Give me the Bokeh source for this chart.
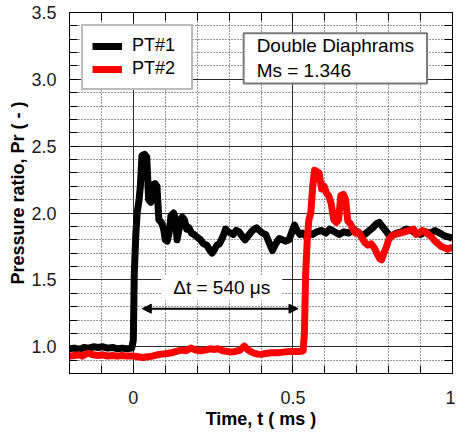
from bokeh.plotting import figure
from bokeh.models import LinearAxis, FixedTicker, Label, Arrow, NormalHead, CustomJSTickFormatter
from bokeh.embed import file_html
from bokeh.resources import INLINE

# ---------------- data ----------------
t1 = [-0.200, -0.185, -0.170, -0.155, -0.140, -0.125, -0.110, -0.095, -0.080, -0.065,
      -0.050, -0.035, -0.020, -0.005, 0.000, 0.003, 0.008, 0.012, 0.018, 0.022,
      0.027, 0.035, 0.042, 0.048, 0.055, 0.060, 0.068, 0.074, 0.080, 0.088,
      0.095, 0.100, 0.106, 0.112, 0.118, 0.126, 0.132, 0.137, 0.145, 0.153,
      0.160, 0.167, 0.174, 0.182, 0.190, 0.200, 0.210, 0.220, 0.230, 0.240,
      0.247, 0.255, 0.262, 0.270, 0.280, 0.289, 0.297, 0.305, 0.313, 0.322,
      0.331, 0.340, 0.350, 0.360, 0.370, 0.378, 0.386, 0.395, 0.405, 0.415,
      0.425, 0.436, 0.446, 0.457, 0.467, 0.478, 0.488, 0.497, 0.505, 0.513,
      0.522, 0.530, 0.540, 0.550, 0.561, 0.575, 0.590, 0.603, 0.615, 0.630,
      0.645, 0.660, 0.675, 0.690, 0.705, 0.720, 0.735, 0.750, 0.762, 0.771,
      0.780, 0.790, 0.800, 0.810, 0.825, 0.840, 0.855, 0.870, 0.885, 0.900,
      0.915, 0.930, 0.945, 0.960, 0.975, 0.990, 1.000]
p1 = [0.985, 0.990, 0.980, 0.995, 0.990, 1.000, 0.995, 1.000, 0.990, 0.995,
      0.985, 0.990, 0.985, 0.990, 1.050, 1.550, 1.850, 2.000, 2.100, 2.200,
      2.430, 2.440, 2.420, 2.100, 2.080, 2.210, 2.220, 2.200, 1.950, 1.930,
      1.880, 1.800, 1.790, 1.850, 1.980, 2.000, 1.960, 1.800, 1.900, 1.970,
      1.950, 1.880, 1.890, 1.850, 1.840, 1.820, 1.800, 1.770, 1.760, 1.720,
      1.700, 1.730, 1.760, 1.770, 1.820, 1.880, 1.860, 1.850, 1.840, 1.870,
      1.860, 1.830, 1.800, 1.830, 1.860, 1.880, 1.890, 1.870, 1.850, 1.840,
      1.780, 1.720, 1.770, 1.810, 1.800, 1.790, 1.800, 1.860, 1.910, 1.870,
      1.840, 1.850, 1.830, 1.850, 1.840, 1.860, 1.870, 1.850, 1.880, 1.860,
      1.840, 1.860, 1.850, 1.880, 1.850, 1.830, 1.860, 1.890, 1.920, 1.930,
      1.900, 1.870, 1.840, 1.830, 1.850, 1.860, 1.880, 1.870, 1.850, 1.840,
      1.860, 1.850, 1.870, 1.850, 1.830, 1.820, 1.810]

t2 = [-0.200, -0.185, -0.170, -0.160, -0.150, -0.140, -0.125, -0.110, -0.095, -0.080,
      -0.065, -0.050, -0.035, -0.020, 0.000, 0.015, 0.030, 0.045, 0.060, 0.075,
      0.090, 0.105, 0.120, 0.135, 0.150, 0.165, 0.180, 0.195, 0.210, 0.225,
      0.240, 0.255, 0.265, 0.280, 0.295, 0.305, 0.320, 0.335, 0.348, 0.360,
      0.375, 0.390, 0.400, 0.415, 0.430, 0.452, 0.470, 0.490, 0.505, 0.520,
      0.532, 0.536, 0.540, 0.545, 0.550, 0.556, 0.562, 0.568, 0.575, 0.582,
      0.590, 0.598, 0.605, 0.612, 0.620, 0.628, 0.636, 0.643, 0.650, 0.658,
      0.665, 0.672, 0.680, 0.688, 0.696, 0.705, 0.715, 0.725, 0.735, 0.745,
      0.755, 0.765, 0.772, 0.778, 0.785, 0.792, 0.800, 0.810, 0.820, 0.835,
      0.850, 0.865, 0.878, 0.886, 0.895, 0.905, 0.915, 0.925, 0.935, 0.945,
      0.955, 0.965, 0.975, 0.985, 0.995, 1.000]
p2 = [0.930, 0.935, 0.940, 0.930, 0.945, 0.950, 0.940, 0.935, 0.940, 0.930,
      0.935, 0.930, 0.935, 0.930, 0.930, 0.925, 0.920, 0.925, 0.930, 0.940,
      0.945, 0.950, 0.955, 0.965, 0.975, 0.970, 0.990, 0.975, 0.970, 0.975,
      0.985, 0.980, 0.985, 0.970, 0.965, 0.960, 0.965, 0.975, 1.005, 0.975,
      0.955, 0.945, 0.943, 0.950, 0.955, 0.955, 0.960, 0.965, 0.965, 0.965,
      0.970, 1.100, 1.550, 1.800, 1.950, 2.000, 2.200, 2.320, 2.310, 2.300,
      2.180, 2.200, 2.150, 2.130, 2.070, 1.950, 1.930, 1.950, 2.130, 2.140,
      2.100, 1.940, 1.920, 1.880, 1.850, 1.860, 1.820, 1.780, 1.760, 1.770,
      1.740, 1.690, 1.660, 1.650, 1.700, 1.740, 1.800, 1.830, 1.840, 1.850,
      1.860, 1.870, 1.880, 1.840, 1.850, 1.870, 1.860, 1.840, 1.820, 1.790,
      1.770, 1.750, 1.740, 1.730, 1.740, 1.720]

series_names = ["PT#1", "PT#2"]
series_colors = ["black", "#ff0000"]

x_major = [0, 0.5, 1]
x_tick_labels = {0: "0", 0.5: "0.5", 1: "1"}
y_major = [1.0, 1.5, 2.0, 2.5, 3.0, 3.5]
y_tick_labels = {1.0: "1.0", 1.5: "1.5", 2.0: "2.0", 2.5: "2.5", 3.0: "3.0", 3.5: "3.5"}
x_minor = [round(-0.2 + 0.1 * i, 1) for i in range(13)]
y_minor = [round(0.8 + 0.1 * i, 1) for i in range(28)]

x_title = "Time, t ( ms )"
y_title = "Pressure ratio, Pr ( - )"
box_text = "Double Diaphrams\nMs = 1.346"
dt_text = "\u0394t = 540 \u03bcs"
arrow_x = [0.028, 0.516]
arrow_y = 1.285
dt_text_pos = (0.277, 1.44)
box_pos = (0.3456, 3.345)

FONT = "Liberation Sans"

# ---------------- figure ----------------
p = figure(width=455, height=432, x_range=(-0.2, 1.0), y_range=(0.8, 3.5),
           output_backend="svg", toolbar_location=None, tools="",
           min_border_left=69, min_border_right=3, min_border_top=12, min_border_bottom=59)
p.outline_line_color = "black"
p.outline_line_width = 1
p.background_fill_color = "white"
p.border_fill_color = "white"

xt = FixedTicker(ticks=x_major, minor_ticks=x_minor)
yt = FixedTicker(ticks=y_major, minor_ticks=y_minor)

def style_axis(ax, ticker, labels=None, show_labels=True):
    ax.ticker = ticker
    ax.axis_line_color = "black"
    ax.axis_line_width = 1
    ax.major_tick_in = 8
    ax.major_tick_out = 0
    ax.minor_tick_in = 8
    ax.minor_tick_out = 0
    ax.major_tick_line_color = "black"
    ax.minor_tick_line_color = "black"
    ax.major_tick_line_width = 1
    ax.minor_tick_line_width = 1
    if show_labels:
        ax.major_label_overrides = labels
        ax.major_label_text_font = FONT
        ax.major_label_text_font_size = "18px"
        ax.major_label_text_color = "#1a1a1a"
        ax.axis_label_text_font = FONT
        ax.axis_label_text_font_size = "18px"
        ax.axis_label_text_font_style = "bold"
        ax.axis_label_text_color = "black"
    else:
        ax.formatter = CustomJSTickFormatter(code="return ''")
        ax.major_label_standoff = 0
        ax.axis_label_standoff = 0
        ax.axis_label = None

xa = p.xaxis[0]
style_axis(xa, xt, x_tick_labels)
xa.axis_label = x_title
xa.major_label_standoff = 17
xa.axis_label_standoff = 2

ya = p.yaxis[0]
style_axis(ya, yt, y_tick_labels)
ya.axis_label = y_title
ya.major_label_standoff = 13
ya.axis_label_standoff = 0

top = LinearAxis()
style_axis(top, xt, show_labels=False)
p.add_layout(top, "above")
right = LinearAxis()
style_axis(right, yt, show_labels=False)
p.add_layout(right, "right")

# grids
for g, tk in ((p.xgrid[0], xt), (p.ygrid[0], yt)):
    g.ticker = tk
    g.grid_line_color = "#2b2b2b"
    g.grid_line_width = 1
    g.minor_grid_line_color = "#333333"
    g.minor_grid_line_width = 1
    g.minor_grid_line_dash = "1 2"

# Δt label and arrow
dt_label = Label(x=dt_text_pos[0], y=dt_text_pos[1], text=dt_text,
                 text_font=FONT, text_font_size="19px", text_color="black",
                 text_align="center", text_baseline="middle",
                 background_fill_color="white",
                 padding=dict(left=12, right=12, top=2, bottom=2))
p.add_layout(dt_label)
arrow = Arrow(x_start=arrow_x[0], y_start=arrow_y, x_end=arrow_x[1], y_end=arrow_y,
              line_width=2, line_color="black",
              start=NormalHead(size=9, fill_color="black", line_color="black"),
              end=NormalHead(size=9, fill_color="black", line_color="black"))
p.add_layout(arrow)

# series
widths = [7, 7]
for tx, py_, name, col, w in ((t1, p1, series_names[0], series_colors[0], widths[0]),
                              (t2, p2, series_names[1], series_colors[1], widths[1])):
    p.line(tx, py_, line_color=col, line_width=w, line_join="round", legend_label=name)

leg = p.legend[0]
leg.location = "top_left"
leg.margin = 12
leg.padding = 9
leg.spacing = 2
leg.glyph_width = 30
leg.glyph_height = 20
leg.label_standoff = 10
leg.label_width = 50
leg.label_text_font = FONT
leg.label_text_font_size = "18px"
leg.label_text_color = "black"
leg.border_line_color = "#7a7a7a"
leg.border_line_width = 2
leg.background_fill_alpha = 1

box = Label(x=box_pos[0], y=box_pos[1], text=box_text,
            text_font=FONT, text_font_size="19px", text_color="black",
            text_align="left", text_baseline="top", anchor="top_left",
            background_fill_color="white", border_line_color="#7a7a7a", border_line_width=2,
            padding=dict(left=13, right=13, top=2, bottom=2))
p.add_layout(box)

open("out.html", "w").write(file_html(p, INLINE))
